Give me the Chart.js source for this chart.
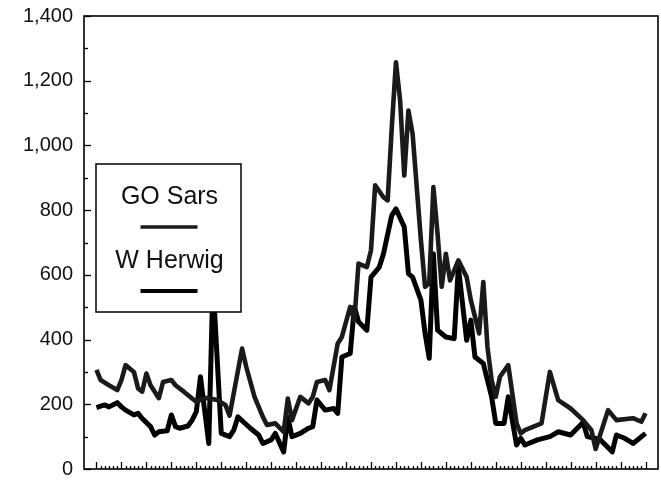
<!DOCTYPE html>
<html>
<head>
<meta charset="utf-8">
<script src="https://cdn.jsdelivr.net/npm/chart.js@4/dist/chart.umd.min.js"></script>
<style>
  html, body { margin: 0; padding: 0; background: #fff; }
  #wrap { width: 661px; height: 487px; }
</style>
</head>
<body>
<div id="wrap"><canvas id="chart"></canvas></div>
<script>
// week index along the x axis, catch values
const goSarsWeek = [0, 1, 3, 5, 6, 7, 9, 10, 11, 12, 13, 15, 16, 18, 19, 21, 23, 24, 26, 27, 29, 31, 32,
  35, 36, 38, 40, 41, 43, 45, 46, 47, 49, 51, 52, 53, 55, 56, 58, 59, 61, 62, 63, 65, 66, 67, 69, 70, 71,
  72, 73, 74, 75, 76, 77, 78, 79, 80, 81, 82, 83, 84, 85, 87, 89, 90, 92, 93, 94, 95, 96, 97, 99, 101,
  102, 103, 107, 109, 111, 114, 117, 119, 120, 123, 125, 129, 131, 132];
const goSarsCatch = [306, 275, 259, 244, 275, 321, 300, 249, 239, 295, 259, 219, 269, 275, 259, 239, 218, 208, 219, 219, 213, 198, 165,
  372, 316, 223, 161, 136, 141, 115, 218, 151, 223, 203, 223, 269, 275, 244, 388, 408, 501, 460, 635, 624, 676, 877, 840, 830, 1056,
  1257, 1139, 907, 1108, 1036, 871, 707, 563, 574, 871, 727, 563, 665, 583, 645, 593, 522, 419, 578, 377, 275, 223, 285, 321, 141,
  110, 120, 141, 300, 213, 187, 151, 120, 62, 182, 151, 157, 146, 172];

const herwigWeek = [0, 1, 2, 3, 5, 6, 7, 9, 10, 11, 13, 14, 15, 17, 18, 19, 20, 22, 23, 24, 25, 27, 28,
  30, 32, 33, 34, 37, 39, 40, 42, 43, 45, 46, 47, 49, 51, 52, 53, 55, 57, 58, 59, 61, 62, 63, 65, 66, 68,
  69, 71, 72, 74, 75, 76, 78, 79, 80, 81, 82, 84, 86, 87, 89, 90, 91, 93, 95, 96, 98, 99, 101, 102, 103,
  106, 109, 111, 114, 116, 117, 118, 121, 124, 125, 127, 129, 132];
const herwigCatch = [190, 194, 198, 192, 205, 192, 182, 167, 172, 156, 131, 105, 115, 118, 167, 131, 126, 133, 151, 177, 285, 79, 578,
  110, 100, 120, 161, 126, 105, 79, 90, 110, 53, 161, 100, 110, 126, 131, 213, 182, 187, 172, 346, 357, 501, 455, 429, 593, 624,
  665, 784, 804, 748, 604, 593, 522, 419, 342, 665, 429, 408, 403, 624, 398, 460, 346, 326, 223, 141, 141, 223, 74, 95, 74,
  90, 100, 115, 105, 131, 145, 100, 92, 53, 105, 95, 79, 110];

const seriesNames = ['GO Sars', 'W Herwig'];
const yTicks = [0, 200, 400, 600, 800, 1000, 1200, 1400];

function toPoints(xs, ys) {
  return xs.map((x, i) => ({ x: x, y: ys[i] }));
}

const FONT = "'Liberation Sans', Arial, Helvetica, sans-serif";

// frame, inside tick marks and the boxed legend
const framePlugin = {
  id: 'frame',
  afterDatasetsDraw(chart) {
    const { ctx, chartArea: a, scales: { x, y } } = chart;
    ctx.save();
    ctx.strokeStyle = '#000';
    ctx.lineWidth = 1.6;
    ctx.strokeRect(a.left, a.top, a.right - a.left, a.bottom - a.top);

    // y ticks (every 100, longer on labelled values)
    ctx.lineWidth = 1.3;
    for (let v = 0; v <= 1400; v += 100) {
      const py = Math.round(y.getPixelForValue(v)) + 0.5;
      const len = v % 200 === 0 ? 7 : 4;
      ctx.beginPath();
      ctx.moveTo(a.left, py);
      ctx.lineTo(a.left + len, py);
      ctx.stroke();
    }
    // x ticks, one per week, longer every 6th
    for (let w = 0; w <= 132; w++) {
      const px = Math.round(x.getPixelForValue(w)) + 0.5;
      const len = w % 6 === 0 ? 7 : 3;
      ctx.beginPath();
      ctx.moveTo(px, a.bottom);
      ctx.lineTo(px, a.bottom - len);
      ctx.stroke();
    }

    // legend box
    const bx = 96, by = 164, bw = 145, bh = 148;
    ctx.fillStyle = '#fff';
    ctx.fillRect(bx, by, bw, bh);
    ctx.lineWidth = 1.5;
    ctx.strokeRect(bx, by, bw, bh);
    ctx.fillStyle = '#111';
    ctx.font = '25px ' + FONT;
    ctx.textAlign = 'center';
    ctx.textBaseline = 'middle';
    const cx = bx + bw / 2 + 1;
    chart.data.datasets.forEach((ds, i) => {
      const ty = by + 33 + i * 64;
      ctx.fillText(ds.label, cx, ty);
      ctx.strokeStyle = ds.borderColor;
      ctx.lineWidth = ds.borderWidth - 1;
      ctx.beginPath();
      ctx.moveTo(cx - 29, ty + 30);
      ctx.lineTo(cx + 28, ty + 30);
      ctx.stroke();
    });
    ctx.restore();
  }
};

new Chart(document.getElementById('chart'), {
  type: 'line',
  data: {
    datasets: [
      {
        label: seriesNames[0],
        data: toPoints(goSarsWeek, goSarsCatch),
        borderColor: '#1a1a1a',
        borderWidth: 4.6,
        borderJoinStyle: 'round',
        pointRadius: 0,
        tension: 0
      },
      {
        label: seriesNames[1],
        data: toPoints(herwigWeek, herwigCatch),
        borderColor: '#000',
        borderWidth: 5,
        borderJoinStyle: 'round',
        pointRadius: 0,
        tension: 0
      }
    ]
  },
  options: {
    responsive: true,
    maintainAspectRatio: false,
    animation: false,
    events: [],
    layout: { padding: { left: 0, right: 3, top: 16, bottom: 18 } },
    plugins: { legend: { display: false }, tooltip: { enabled: false } },
    scales: {
      x: {
        type: 'linear',
        min: -3,
        max: 135,
        display: false
      },
      y: {
        min: 0,
        max: 1400,
        afterFit(scale) {
          scale.width = 84;
          scale.paddingTop = 0;
          scale.paddingBottom = 0;
        },
        afterBuildTicks(scale) { scale.ticks = yTicks.map(v => ({ value: v })); },
        grid: { display: false, drawTicks: false },
        border: { display: false },
        ticks: {
          padding: 11,
          color: '#111',
          font: { family: FONT, size: 20 }
        }
      }
    }
  },
  plugins: [framePlugin]
});
</script>
</body>
</html>
